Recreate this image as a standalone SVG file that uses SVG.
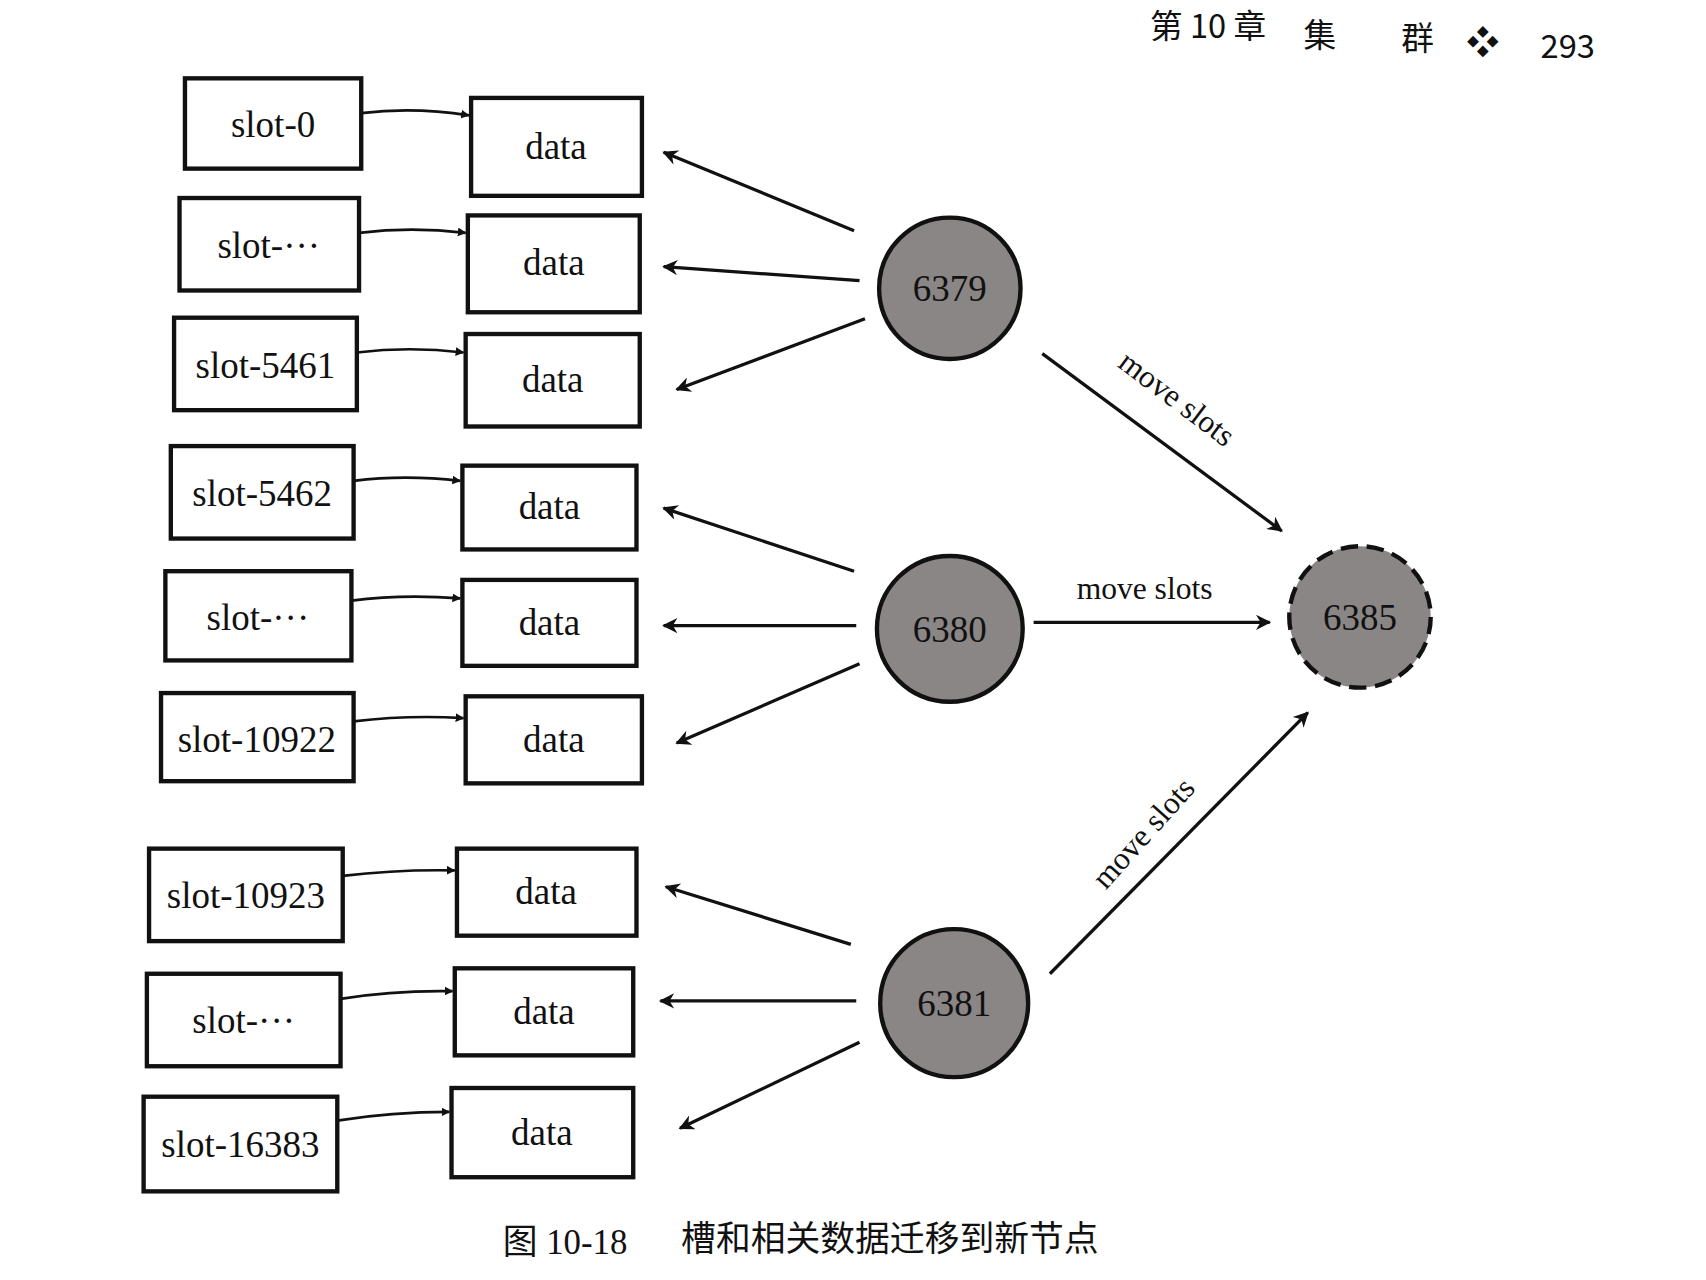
<svg xmlns="http://www.w3.org/2000/svg" width="1706" height="1280" viewBox="0 0 1706 1280">
<style>
.box{fill:#fff;stroke:#111;stroke-width:4}
.t{font-family:"Liberation Serif",serif;font-size:34px;fill:#111;text-anchor:middle}
.h{font-family:"Noto Sans CJK SC","Liberation Sans",sans-serif;font-size:30px;fill:#111}
.n{fill:#8a8685;stroke:#111;stroke-width:4}
.c{stroke:#111;stroke-width:3;fill:none}
.lk{stroke:#111;stroke-width:2.5;fill:none}
</style>
<defs>
<marker id="a" viewBox="0 0 10 10" refX="9" refY="5" markerWidth="8" markerHeight="8" markerUnits="userSpaceOnUse" orient="auto"><path d="M0,0 L10,5 L0,10 z" fill="#111"/></marker>
<marker id="b" viewBox="0 0 10 10" refX="9" refY="5" markerWidth="18" markerHeight="14" markerUnits="userSpaceOnUse" orient="auto"><path d="M0,0 L10,5 L0,10 L3,5 z" fill="#111"/></marker>
</defs>
<rect width="1706" height="1280" fill="#fff"/>
<g transform="scale(1.088)">
<text class="h" x="1057" y="35">第 10 章</text>
<text class="h" x="1198" y="43">集</text>
<text class="h" x="1288" y="46">群</text>
<text class="h" x="1348" y="50">❖</text>
<text class="h" x="1416" y="53">293</text>
<g id="slots">
<g id="s0"><rect class="box" x="170" y="72" width="162" height="83"/><text class="t" x="251" y="126">slot-0</text></g>
<g id="s1"><rect class="box" x="165" y="182" width="165" height="85"/><text class="t" x="247" y="237">slot-···</text></g>
<g id="s5461"><rect class="box" x="160" y="292" width="168" height="85"/><text class="t" x="244" y="347">slot-5461</text></g>
<g id="s5462"><rect class="box" x="157" y="410" width="168" height="85"/><text class="t" x="241" y="465">slot-5462</text></g>
<g id="s2"><rect class="box" x="152" y="525" width="171" height="82"/><text class="t" x="237" y="579">slot-···</text></g>
<g id="s10922"><rect class="box" x="148" y="637" width="177" height="81"/><text class="t" x="236" y="691">slot-10922</text></g>
<g id="s10923"><rect class="box" x="137" y="780" width="178" height="85"/><text class="t" x="226" y="835">slot-10923</text></g>
<g id="s3"><rect class="box" x="135" y="895" width="178" height="85"/><text class="t" x="224" y="949">slot-···</text></g>
<g id="s16383"><rect class="box" x="132" y="1008" width="178" height="87"/><text class="t" x="221" y="1063">slot-16383</text></g>
</g>
<g id="datas">
<g id="d0"><rect class="box" x="433" y="90" width="157" height="90"/><text class="t" x="511" y="146">data</text></g>
<g id="d1"><rect class="box" x="430" y="198" width="158" height="89"/><text class="t" x="509" y="253">data</text></g>
<g id="d2"><rect class="box" x="428" y="307" width="160" height="85"/><text class="t" x="508" y="360">data</text></g>
<g id="d3"><rect class="box" x="425" y="428" width="160" height="77"/><text class="t" x="505" y="477">data</text></g>
<g id="d4"><rect class="box" x="425" y="533" width="160" height="79"/><text class="t" x="505" y="584">data</text></g>
<g id="d5"><rect class="box" x="428" y="640" width="162" height="80"/><text class="t" x="509" y="691">data</text></g>
<g id="d6"><rect class="box" x="420" y="780" width="165" height="80"/><text class="t" x="502" y="831">data</text></g>
<g id="d7"><rect class="box" x="418" y="890" width="164" height="80"/><text class="t" x="500" y="941">data</text></g>
<g id="d8"><rect class="box" x="415" y="1000" width="167" height="82"/><text class="t" x="498" y="1052">data</text></g>
</g>
<g id="n6379"><circle class="n" cx="873" cy="265" r="65"/><text class="t" x="873" y="277">6379</text></g>
<g id="n6380"><circle class="n" cx="873" cy="578" r="67"/><text class="t" x="873" y="590">6380</text></g>
<g id="n6381"><circle class="n" cx="877" cy="922" r="68"/><text class="t" x="877" y="934">6381</text></g>
<g id="n6385"><circle class="n" cx="1250" cy="567" r="65" stroke-dasharray="16 8"/><text class="t" x="1250" y="579">6385</text></g>
<g id="connectors">
<path class="lk" marker-end="url(#a)" d="M332,104 Q380,98 431,106"/>
<path class="lk" marker-end="url(#a)" d="M330,214 Q378,208 428,214"/>
<path class="lk" marker-end="url(#a)" d="M328,324 Q376,318 426,324"/>
<path class="lk" marker-end="url(#a)" d="M325,442 Q372,436 423,442"/>
<path class="lk" marker-end="url(#a)" d="M323,552 Q370,546 423,550"/>
<path class="lk" marker-end="url(#a)" d="M325,663 Q375,657 426,660"/>
<path class="lk" marker-end="url(#a)" d="M315,805 Q365,799 418,800"/>
<path class="lk" marker-end="url(#a)" d="M313,918 Q363,910 416,911"/>
<path class="lk" marker-end="url(#a)" d="M310,1030 Q360,1022 413,1022"/>
<line class="c" marker-end="url(#b)" x1="785" y1="212" x2="610" y2="140"/>
<line class="c" marker-end="url(#b)" x1="790" y1="258" x2="610" y2="245"/>
<line class="c" marker-end="url(#b)" x1="795" y1="293" x2="622" y2="358"/>
<line class="c" marker-end="url(#b)" x1="785" y1="525" x2="610" y2="467"/>
<line class="c" marker-end="url(#b)" x1="787" y1="575" x2="610" y2="575"/>
<line class="c" marker-end="url(#b)" x1="790" y1="610" x2="622" y2="683"/>
<line class="c" marker-end="url(#b)" x1="782" y1="868" x2="612" y2="815"/>
<line class="c" marker-end="url(#b)" x1="787" y1="920" x2="607" y2="920"/>
<line class="c" marker-end="url(#b)" x1="790" y1="958" x2="625" y2="1037"/>
<line class="c" marker-end="url(#b)" x1="958" y1="325" x2="1178" y2="488"/>
<line class="c" marker-end="url(#b)" x1="950" y1="572" x2="1167" y2="572"/>
<line class="c" marker-end="url(#b)" x1="965" y1="895" x2="1202" y2="655"/>
<text class="t" style="font-size:29px" transform="translate(1076,374) rotate(37)">move slots</text>
<text class="t" style="font-size:29px" x="1052" y="551">move slots</text>
<text class="t" style="font-size:29px" transform="translate(1058,772) rotate(-48)">move slots</text>
</g>
<text x="462" y="1153" style="font-family:'Liberation Serif','Noto Sans CJK SC',serif;font-size:32px;fill:#111">图 10-18</text>
<text x="626" y="1150" style="font-family:'Noto Sans CJK SC',sans-serif;font-size:32px;fill:#111">槽和相关数据迁移到新节点</text>
</g>
</svg>
